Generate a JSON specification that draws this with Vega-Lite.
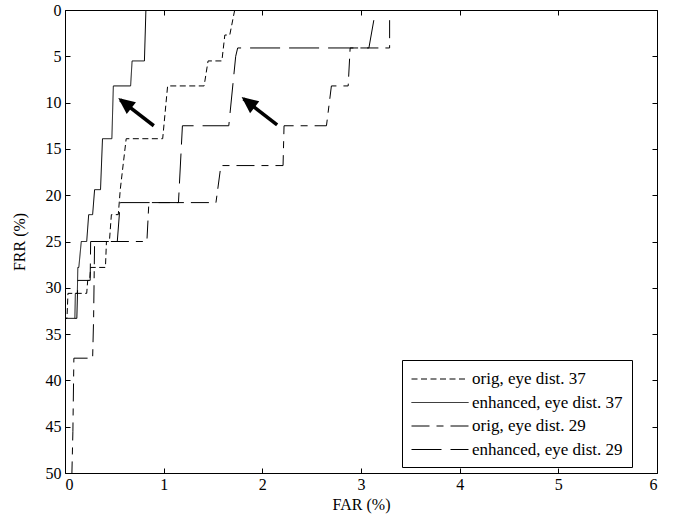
{
  "$schema": "https://vega.github.io/schema/vega-lite/v6.json",
  "width": 592,
  "height": 463,
  "autosize": {"type": "none"},
  "padding": {"left": 65, "top": 10, "right": 21, "bottom": 52},
  "background": "white",
  "config": {
    "font": "Liberation Serif",
    "view": {"stroke": "black", "strokeWidth": 1},
    "axis": {
      "grid": false,
      "domain": false,
      "tickColor": "black",
      "tickWidth": 1,
      "tickSize": -5,
      "labelColor": "black",
      "labelFont": "Liberation Serif",
      "labelFontSize": 16,
      "titleFont": "Liberation Serif",
      "titleFontSize": 16,
      "titleFontWeight": "normal",
      "titleColor": "black"
    },
    "legend": {
      "labelFont": "Liberation Serif",
      "labelFontSize": 17,
      "labelColor": "black"
    }
  },
  "datasets": {
    "curves": [
      {"s": "orig, eye dist. 37", "i": 0, "far": 1.72, "frr": 0},
      {"s": "orig, eye dist. 37", "i": 1, "far": 1.67, "frr": 2.7},
      {"s": "orig, eye dist. 37", "i": 2, "far": 1.62, "frr": 2.7},
      {"s": "orig, eye dist. 37", "i": 3, "far": 1.59, "frr": 5.5},
      {"s": "orig, eye dist. 37", "i": 4, "far": 1.45, "frr": 5.5},
      {"s": "orig, eye dist. 37", "i": 5, "far": 1.41, "frr": 8.2},
      {"s": "orig, eye dist. 37", "i": 6, "far": 1.04, "frr": 8.2},
      {"s": "orig, eye dist. 37", "i": 7, "far": 0.99, "frr": 13.9},
      {"s": "orig, eye dist. 37", "i": 8, "far": 0.62, "frr": 13.9},
      {"s": "orig, eye dist. 37", "i": 9, "far": 0.56, "frr": 19.4},
      {"s": "orig, eye dist. 37", "i": 10, "far": 0.54, "frr": 22.1},
      {"s": "orig, eye dist. 37", "i": 11, "far": 0.47, "frr": 22.1},
      {"s": "orig, eye dist. 37", "i": 12, "far": 0.45, "frr": 25.0},
      {"s": "orig, eye dist. 37", "i": 13, "far": 0.42, "frr": 25.0},
      {"s": "orig, eye dist. 37", "i": 14, "far": 0.41, "frr": 27.8},
      {"s": "orig, eye dist. 37", "i": 15, "far": 0.26, "frr": 27.8},
      {"s": "orig, eye dist. 37", "i": 16, "far": 0.25, "frr": 29.2},
      {"s": "orig, eye dist. 37", "i": 17, "far": 0.23, "frr": 29.2},
      {"s": "orig, eye dist. 37", "i": 18, "far": 0.22, "frr": 30.6},
      {"s": "orig, eye dist. 37", "i": 19, "far": 0.03, "frr": 30.6},
      {"s": "orig, eye dist. 37", "i": 20, "far": 0.02, "frr": 33.3},
      {"s": "orig, eye dist. 37", "i": 21, "far": 0.0, "frr": 33.3},
      {"s": "enhanced, eye dist. 37", "i": 0, "far": 0.82, "frr": 0},
      {"s": "enhanced, eye dist. 37", "i": 1, "far": 0.805, "frr": 5.5},
      {"s": "enhanced, eye dist. 37", "i": 2, "far": 0.68, "frr": 5.5},
      {"s": "enhanced, eye dist. 37", "i": 3, "far": 0.665, "frr": 8.2},
      {"s": "enhanced, eye dist. 37", "i": 4, "far": 0.49, "frr": 8.2},
      {"s": "enhanced, eye dist. 37", "i": 5, "far": 0.475, "frr": 13.9},
      {"s": "enhanced, eye dist. 37", "i": 6, "far": 0.38, "frr": 13.9},
      {"s": "enhanced, eye dist. 37", "i": 7, "far": 0.36, "frr": 19.4},
      {"s": "enhanced, eye dist. 37", "i": 8, "far": 0.30, "frr": 19.4},
      {"s": "enhanced, eye dist. 37", "i": 9, "far": 0.28, "frr": 22.1},
      {"s": "enhanced, eye dist. 37", "i": 10, "far": 0.24, "frr": 22.1},
      {"s": "enhanced, eye dist. 37", "i": 11, "far": 0.22, "frr": 25.0},
      {"s": "enhanced, eye dist. 37", "i": 12, "far": 0.165, "frr": 25.0},
      {"s": "enhanced, eye dist. 37", "i": 13, "far": 0.14, "frr": 27.8},
      {"s": "enhanced, eye dist. 37", "i": 14, "far": 0.13, "frr": 27.8},
      {"s": "enhanced, eye dist. 37", "i": 15, "far": 0.125, "frr": 30.6},
      {"s": "enhanced, eye dist. 37", "i": 16, "far": 0.105, "frr": 30.6},
      {"s": "enhanced, eye dist. 37", "i": 17, "far": 0.10, "frr": 33.3},
      {"s": "enhanced, eye dist. 37", "i": 18, "far": 0.0, "frr": 33.3},
      {"s": "orig, eye dist. 29", "i": 0, "far": 3.29, "frr": 1.1},
      {"s": "orig, eye dist. 29", "i": 1, "far": 3.29, "frr": 4.1},
      {"s": "orig, eye dist. 29", "i": 2, "far": 2.89, "frr": 4.1},
      {"s": "orig, eye dist. 29", "i": 3, "far": 2.87, "frr": 8.2},
      {"s": "orig, eye dist. 29", "i": 4, "far": 2.70, "frr": 8.2},
      {"s": "orig, eye dist. 29", "i": 5, "far": 2.65, "frr": 12.5},
      {"s": "orig, eye dist. 29", "i": 6, "far": 2.22, "frr": 12.5},
      {"s": "orig, eye dist. 29", "i": 7, "far": 2.21, "frr": 16.8},
      {"s": "orig, eye dist. 29", "i": 8, "far": 1.58, "frr": 16.8},
      {"s": "orig, eye dist. 29", "i": 9, "far": 1.53, "frr": 20.8},
      {"s": "orig, eye dist. 29", "i": 10, "far": 0.85, "frr": 20.8},
      {"s": "orig, eye dist. 29", "i": 11, "far": 0.83, "frr": 25.0},
      {"s": "orig, eye dist. 29", "i": 12, "far": 0.30, "frr": 25.0},
      {"s": "orig, eye dist. 29", "i": 13, "far": 0.29, "frr": 33.3},
      {"s": "orig, eye dist. 29", "i": 14, "far": 0.28, "frr": 37.6},
      {"s": "orig, eye dist. 29", "i": 15, "far": 0.09, "frr": 37.6},
      {"s": "orig, eye dist. 29", "i": 16, "far": 0.08, "frr": 45.5},
      {"s": "orig, eye dist. 29", "i": 17, "far": 0.07, "frr": 50},
      {"s": "enhanced, eye dist. 29", "i": 0, "far": 3.13, "frr": 1.1},
      {"s": "enhanced, eye dist. 29", "i": 1, "far": 3.08, "frr": 4.1},
      {"s": "enhanced, eye dist. 29", "i": 2, "far": 1.75, "frr": 4.1},
      {"s": "enhanced, eye dist. 29", "i": 3, "far": 1.73, "frr": 5.0},
      {"s": "enhanced, eye dist. 29", "i": 4, "far": 1.66, "frr": 12.5},
      {"s": "enhanced, eye dist. 29", "i": 5, "far": 1.19, "frr": 12.5},
      {"s": "enhanced, eye dist. 29", "i": 6, "far": 1.15, "frr": 20.8},
      {"s": "enhanced, eye dist. 29", "i": 7, "far": 0.56, "frr": 20.8},
      {"s": "enhanced, eye dist. 29", "i": 8, "far": 0.53, "frr": 25.0},
      {"s": "enhanced, eye dist. 29", "i": 9, "far": 0.26, "frr": 25.0},
      {"s": "enhanced, eye dist. 29", "i": 10, "far": 0.255, "frr": 29.2},
      {"s": "enhanced, eye dist. 29", "i": 11, "far": 0.13, "frr": 29.2},
      {"s": "enhanced, eye dist. 29", "i": 12, "far": 0.12, "frr": 33.3},
      {"s": "enhanced, eye dist. 29", "i": 13, "far": 0.0, "frr": 33.3}
    ],
    "arrows": [
      {"far": 0.90, "frr": 12.5, "far2": 0.56, "frr2": 9.7},
      {"far": 2.15, "frr": 12.4, "far2": 1.81, "frr2": 9.6}
    ],
    "heads": [
      {"far": 0.54, "frr": 9.5},
      {"far": 1.79, "frr": 9.4}
    ]
  },
  "resolve": {"axis": {"x": "independent", "y": "independent"}},
  "layer": [
    {
      "data": {"name": "curves"},
      "mark": {"type": "line", "color": "black", "strokeWidth": 1, "clip": true},
      "encoding": {
        "x": {
          "field": "far", "type": "quantitative",
          "scale": {"domain": [0, 6], "nice": false, "zero": false},
          "axis": {"orient": "bottom", "values": [0, 1, 2, 3, 4, 5, 6], "title": "FAR (%)", "labelPadding": 8, "titlePadding": 4}
        },
        "y": {
          "field": "frr", "type": "quantitative",
          "scale": {"domain": [0, 50], "nice": false, "reverse": true},
          "axis": {"orient": "left", "values": [0, 5, 10, 15, 20, 25, 30, 35, 40, 45, 50], "title": "FRR (%)", "labelPadding": 9, "titlePadding": 18}
        },
        "order": {"field": "i", "type": "quantitative"},
        "strokeDash": {
          "field": "s", "type": "nominal",
          "scale": {
            "domain": ["orig, eye dist. 37", "enhanced, eye dist. 37", "orig, eye dist. 29", "enhanced, eye dist. 29"],
            "range": [[6, 3.5], [1, 0], [18, 7, 7, 7], [30, 9]]
          },
          "legend": {
            "title": null,
            "orient": "none",
            "legendX": 337,
            "legendY": 350,
            "symbolType": "M-1,0L5,0",
            "symbolSize": 361,
            "symbolStrokeColor": "black",
            "symbolFillColor": "transparent",
            "symbolStrokeWidth": 1,
            "labelOffset": 41,
            "rowPadding": 5.5,
            "padding": 9,
            "strokeColor": "black",
            "fillColor": "white"
          }
        }
      }
    },
    {
      "data": {"name": "arrows"},
      "mark": {"type": "rule", "color": "black", "strokeWidth": 3.5},
      "encoding": {
        "x": {"field": "far", "type": "quantitative", "axis": {"orient": "top", "values": [0, 1, 2, 3, 4, 5, 6], "labels": false, "title": null}},
        "y": {"field": "frr", "type": "quantitative", "axis": {"orient": "right", "values": [0, 5, 10, 15, 20, 25, 30, 35, 40, 45, 50], "labels": false, "title": null}},
        "x2": {"field": "far2"},
        "y2": {"field": "frr2"}
      }
    },
    {
      "data": {"name": "heads"},
      "mark": {"type": "point", "filled": true, "color": "black", "opacity": 1, "shape": "M0,0L-0.45,1L0.45,1Z", "size": 1100, "angle": 308},
      "encoding": {
        "x": {"field": "far", "type": "quantitative", "axis": null},
        "y": {"field": "frr", "type": "quantitative", "axis": null}
      }
    }
  ]
}
